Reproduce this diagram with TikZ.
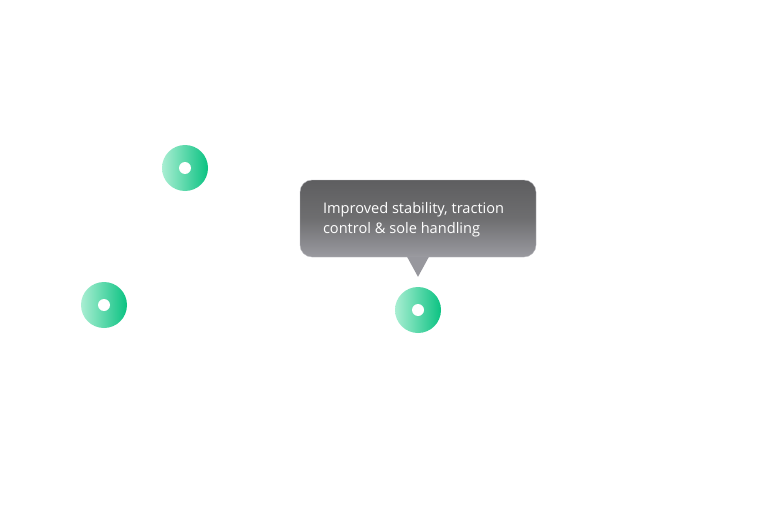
\documentclass[tikz,border=0pt]{standalone}
\usepackage{fontspec}
\setmainfont{Open Sans}
\usetikzlibrary{calc}
\definecolor{mintlight}{HTML}{A9EED2}
\definecolor{mintdark}{HTML}{0BC282}
\definecolor{tipdark}{HTML}{5E5E60}
\definecolor{tiplight}{HTML}{9A9AA0}
\def\ringr{23}
\def\holer{6}
\tikzset{
  ring/.style={circle,minimum size=2*\ringr pt,inner sep=0pt,left color=mintlight,right color=mintdark},
  hole/.style={circle,minimum size=2*\holer pt,inner sep=0pt,fill=white},
  tipbox/.style={rounded corners=12pt,minimum width=236pt,minimum height=77pt,inner sep=0pt,
    top color=tipdark,bottom color=tiplight,middle color=tipdark!90!white,draw=tiplight!70!white,line width=0.4pt}
}
\begin{document}
\begin{tikzpicture}[x=1pt,y=-1pt]
\useasboundingbox (0,0) rectangle (758,519);
% hotspots
\node[ring] (dotA) at (185,168) {};
\node[ring] (dotB) at (104,305) {};
\node[ring] (dotC) at (418,310) {};
\foreach \d in {dotA,dotB,dotC} {
  \node[hole] at (\d) {};
}
% tooltip
\node[tipbox] (tip) at (418,218.5) {};
\coordinate (tipend) at ($(dotC.north)+(0,-10)$);
\fill[tiplight!95!tipdark] ($(tip.south)+(-11,-0.5)$) -- ($(tip.south)+(11,-0.5)$) -- (tipend) -- cycle;
\node[anchor=north west,align=left,text=white,font=\fontsize{14.6}{20}\selectfont,inner sep=0pt] (tiptext) at ($(tip.north west)+(23,22)$)
  {Improved stability, traction\\control \& sole handling};
\end{tikzpicture}
\end{document}
